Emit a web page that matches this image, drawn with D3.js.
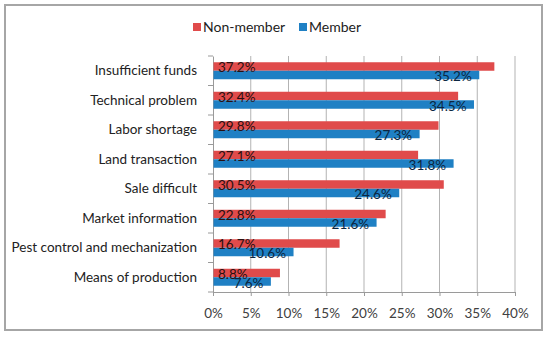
<!DOCTYPE html>
<meta charset="utf-8">
<style>
body { margin: 0; background: #fff; }
text { font-family: Lato, "Open Sans", sans-serif; }
</style>
<svg width="550" height="337"></svg>
<script src="https://d3js.org/d3.v7.min.js"></script>
<script>

var categories = ["Insufficient funds", "Technical problem", "Labor shortage", "Land transaction",
                  "Sale difficult", "Market information", "Pest control and mechanization", "Means of production"];
var nonMember = [37.2, 32.4, 29.8, 27.1, 30.5, 22.8, 16.7, 8.8];
var member    = [35.2, 34.5, 27.3, 31.8, 24.6, 21.6, 10.6, 7.6];
var seriesNames = ["Non-member", "Member"];
var xTicks = [0, 5, 10, 15, 20, 25, 30, 35, 40];

var colors = ["#e04b4b", "#1f80c4"];
var labelColors = ["#2a1010", "#0c2640"];

var svg = d3.select("svg");

// outer frame
svg.append("rect")
   .attr("x", 5).attr("y", 5)
   .attr("width", 537).attr("height", 325)
   .attr("fill", "#fff")
   .attr("stroke", "#a6a6a6")
   .attr("stroke-width", 2);

var plotLeft = 213, plotRight = 515, plotTop = 56, plotBottom = 292;

var x = d3.scaleLinear().domain([0, 40]).range([plotLeft, plotRight]);
var y = d3.scaleBand().domain(categories).range([plotTop, plotBottom]);
var inner = d3.scaleBand().domain(seriesNames).range([-8.5, 8.5]);

// gridlines
svg.append("g").selectAll("line")
   .data(xTicks.slice(1))
   .enter().append("line")
   .attr("x1", function(d) { return x(d); })
   .attr("x2", function(d) { return x(d); })
   .attr("y1", plotTop).attr("y2", plotBottom)
   .attr("stroke", "#b3b3b3").attr("stroke-width", 1);

// x axis
var xAxis = svg.append("g")
   .attr("transform", "translate(0," + plotBottom + ")")
   .call(d3.axisBottom(x).tickValues(xTicks).tickFormat(function(d) { return d + "%"; })
         .tickSize(4).tickPadding(12));
xAxis.select(".domain").attr("stroke", "#9a9a9a");
xAxis.selectAll(".tick line").attr("stroke", "#9a9a9a");
xAxis.selectAll("text").attr("font-size", "13.5px").attr("fill", "#404040")
     .style("font-family", "Lato, sans-serif");

// y axis
var yAxis = svg.append("g")
   .attr("transform", "translate(" + plotLeft + ",0)")
   .call(d3.axisLeft(y).tickSize(0).tickPadding(16));
yAxis.select(".domain").attr("stroke", "#9a9a9a");
yAxis.selectAll("text").attr("font-size", "13.5px").attr("fill", "#222")
     .style("font-family", "Lato, sans-serif");

// category boundary ticks
var bounds = categories.map(function(c) { return y(c); }).concat([plotBottom]);
svg.append("g").selectAll("line")
   .data(bounds)
   .enter().append("line")
   .attr("x1", plotLeft - 5).attr("x2", plotLeft)
   .attr("y1", function(d) { return d; }).attr("y2", function(d) { return d; })
   .attr("stroke", "#9a9a9a");

// bars
var series = [nonMember, member];
series.forEach(function(vals, si) {
  var g = svg.append("g");
  g.selectAll("rect")
   .data(vals)
   .enter().append("rect")
   .attr("x", x(0) + 0.5)
   .attr("y", function(d, i) { return y.bandwidth() / 2 + y(categories[i]) + inner(seriesNames[si]); })
   .attr("width", function(d) { return x(d) - x(0); })
   .attr("height", inner.bandwidth())
   .attr("fill", colors[si]);
});

// value labels
svg.append("g").selectAll("text")
   .data(nonMember)
   .enter().append("text")
   .attr("x", x(0) + 5)
   .attr("y", function(d, i) { return y(categories[i]) + y.bandwidth() / 2 - 4.25 + 1; })
   .attr("dy", "0.35em")
   .attr("font-size", "13.5px")
   .attr("fill", labelColors[0])
   .text(function(d) { return d.toFixed(1) + "%"; });

svg.append("g").selectAll("text")
   .data(member)
   .enter().append("text")
   .attr("x", function(d) { return x(d) - 7; })
   .attr("y", function(d, i) { return y(categories[i]) + y.bandwidth() / 2 + 4.25 + 1.5; })
   .attr("dy", "0.35em")
   .attr("text-anchor", "end")
   .attr("font-size", "13.5px")
   .attr("fill", labelColors[1])
   .text(function(d) { return d.toFixed(1) + "%"; });

// legend
var legendX = [193, 299];
seriesNames.forEach(function(name, i) {
  svg.append("rect")
     .attr("x", legendX[i]).attr("y", 23)
     .attr("width", 8).attr("height", 8)
     .attr("fill", colors[i]);
  svg.append("text")
     .attr("x", legendX[i] + 10).attr("y", 27)
     .attr("dy", "0.35em")
     .attr("font-size", "14px")
     .attr("fill", "#222")
     .text(name);
});

</script>
